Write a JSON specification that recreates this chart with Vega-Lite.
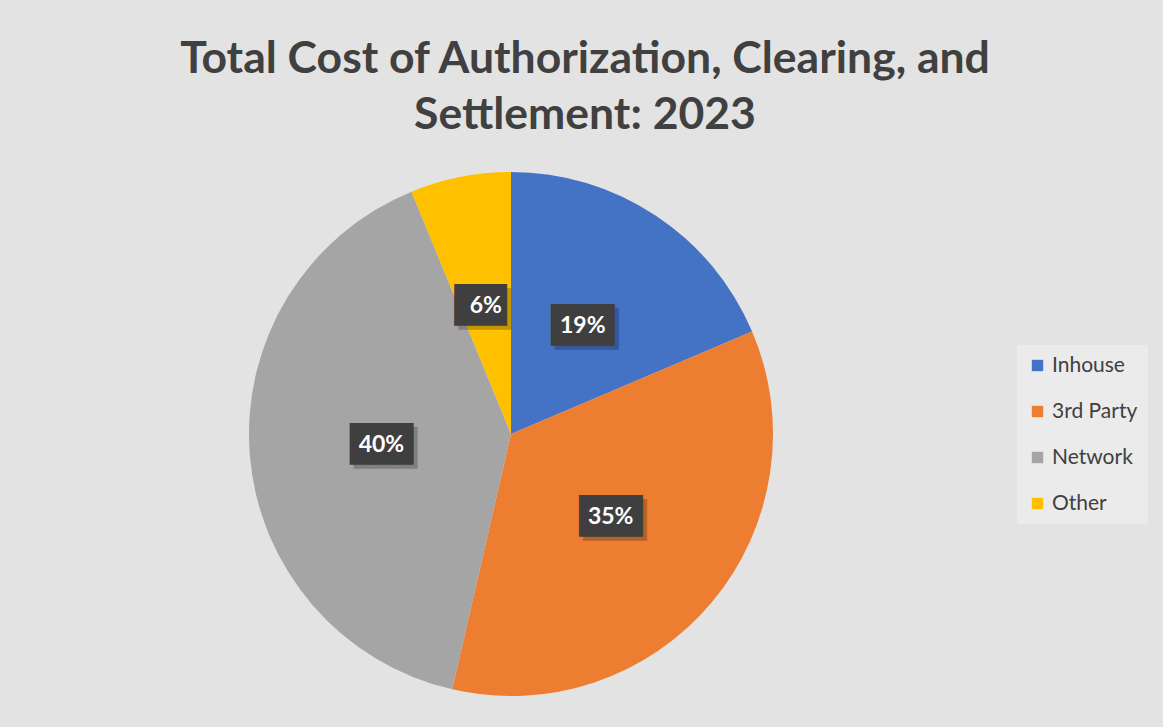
{
  "$schema": "https://vega.github.io/schema/vega-lite/v6.json",
  "width": 524,
  "height": 524,
  "autosize": {"type": "none"},
  "padding": {"left": 249, "top": 172, "right": 390, "bottom": 31},
  "background": "#e3e3e3",
  "title": {
    "text": ["Total Cost of Authorization, Clearing, and", "Settlement: 2023"],
    "font": "Lato",
    "fontSize": 44.5,
    "fontWeight": "bold",
    "color": "#404040",
    "anchor": "middle",
    "dx": 74,
    "lineHeight": 56,
    "offset": 34
  },
  "data": {
    "values": [
      {"category": "Inhouse", "value": 18.6, "idx": 1, "label": "19%"},
      {"category": "3rd Party", "value": 35.0, "idx": 2, "label": "35%"},
      {"category": "Network", "value": 40.2, "idx": 3, "label": "40%"},
      {"category": "Other", "value": 6.2, "idx": 4, "label": "6%"}
    ]
  },
  "encoding": {
    "theta": {"field": "value", "type": "quantitative", "stack": true},
    "order": {"field": "idx", "type": "quantitative"}
  },
  "layer": [
    {
      "mark": {"type": "arc", "outerRadius": 262, "stroke": null},
      "encoding": {
        "color": {
          "field": "category",
          "type": "nominal",
          "scale": {
            "domain": ["Inhouse", "3rd Party", "Network", "Other"],
            "range": ["#4472C4", "#ED7D31", "#A5A5A5", "#FFC000"]
          },
          "legend": {
            "orient": "none",
            "legendX": 768,
            "legendY": 173,
            "title": null,
            "symbolType": "square",
            "symbolSize": 130,
            "symbolStrokeWidth": 0,
            "labelFont": "Lato",
            "labelFontSize": 21,
            "labelColor": "#404040",
            "labelOffset": 4,
            "rowPadding": 24,
            "padding": 10,
            "fillColor": "#ebebeb"
          }
        }
      }
    },
    {
      "mark": {"type": "text", "radius": 130, "font": "DejaVu Sans Mono", "fontSize": 35, "color": "#000000", "opacity": 0.22, "dx": 4, "dy": 4, "baseline": "middle"},
      "encoding": {
        "text": {"condition": {"test": "datum.value < 10", "value": "██▌"}, "value": "███"}
      }
    },
    {
      "mark": {"type": "text", "radius": 130, "font": "DejaVu Sans Mono", "fontSize": 35, "color": "#3f3f3f", "baseline": "middle"},
      "encoding": {
        "text": {"condition": {"test": "datum.value < 10", "value": "██▌"}, "value": "███"}
      }
    },
    {
      "mark": {"type": "text", "radius": 130, "font": "Lato", "fontSize": 23, "fontWeight": "bold", "color": "#ffffff", "baseline": "middle"},
      "encoding": {
        "text": {"field": "label", "type": "nominal"}
      }
    }
  ]
}
